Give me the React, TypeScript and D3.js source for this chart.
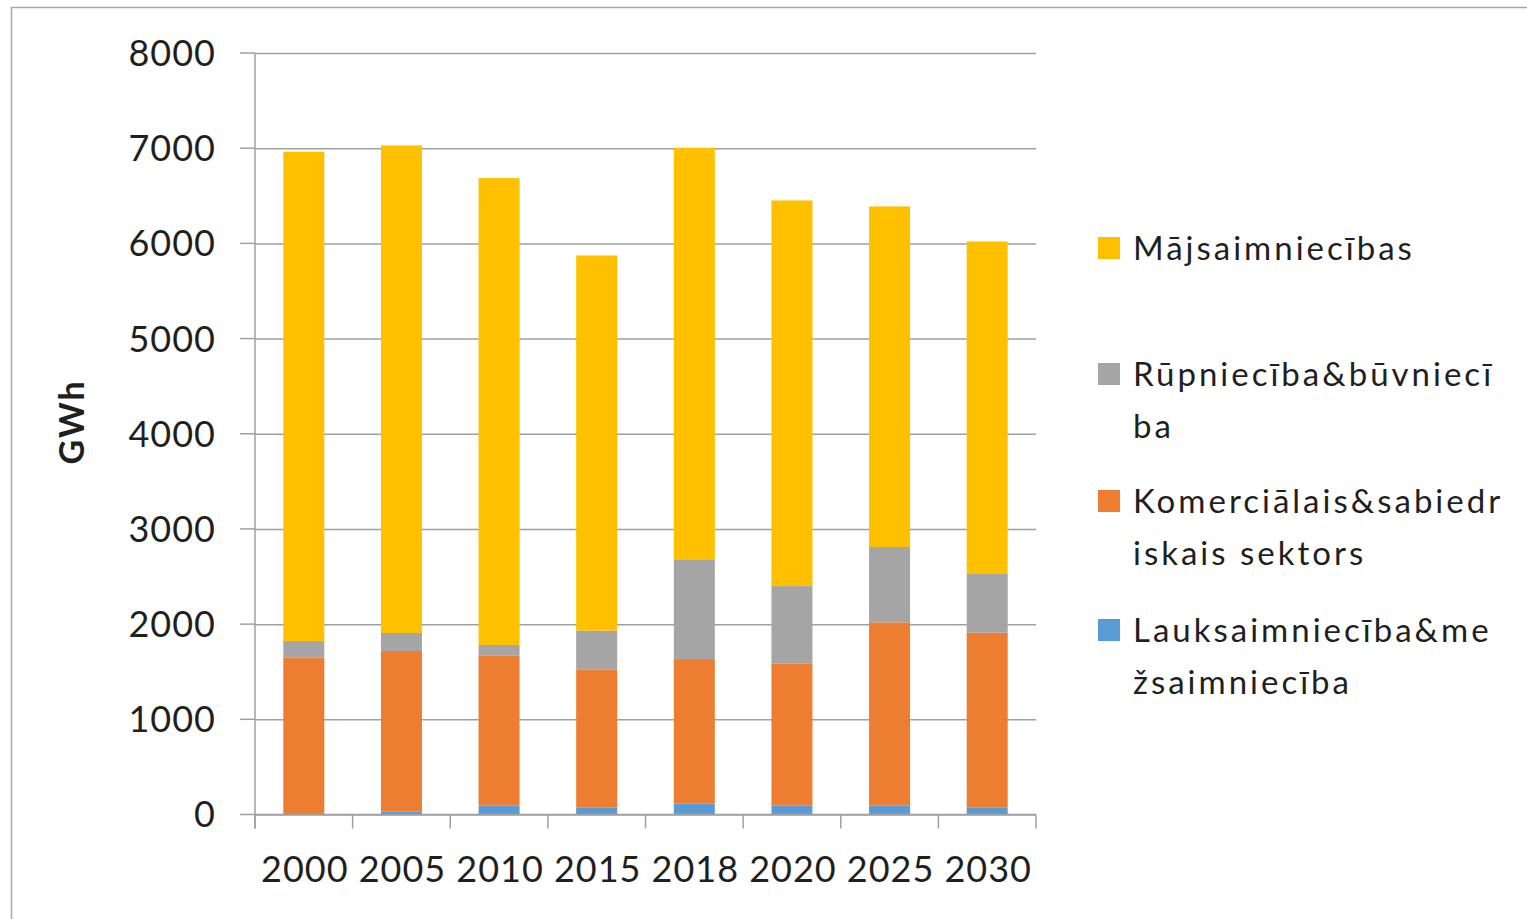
import { useEffect, useRef } from 'react'
import * as d3 from 'd3'

// Values (GWh)
const years = ['2000', '2005', '2010', '2015', '2018', '2020', '2025', '2030']
const lauksaimnieciba = [5, 30, 92, 71, 113, 92, 92, 71]
const komercialais = [1646, 1688, 1580, 1454, 1520, 1496, 1927, 1839]
const rupnieciba = [171, 189, 109, 406, 1048, 812, 791, 624]
const majsaimniecibas = [5141, 5122, 4905, 3942, 4324, 4051, 3578, 3486]

const yTicks = [0, 1000, 2000, 3000, 4000, 5000, 6000, 7000, 8000]

// stacking order bottom -> top
const seriesKeys = ['lauks', 'komerc', 'rupn', 'maj']
const seriesColors: Record<string, string> = {
  lauks: '#5B9BD5',
  komerc: '#ED7D31',
  rupn: '#A5A5A5',
  maj: '#FFC000',
}
// legend top -> bottom, labels wrapped as in the original
const legendKeys = ['maj', 'rupn', 'komerc', 'lauks']
const legendLines: Record<string, string[]> = {
  maj: ['Mājsaimniecības'],
  rupn: ['Rūpniecība&būvniecī', 'ba'],
  komerc: ['Komerciālais&sabiedr', 'iskais sektors'],
  lauks: ['Lauksaimniecība&me', 'žsaimniecība'],
}

const W = 1527
const H = 919
const FONT = 'Lato, "Open Sans", sans-serif'
const GRID = '#a0a0a0'
const TEXT = '#1f1f1f'

export default function App() {
  const ref = useRef<SVGSVGElement>(null)

  useEffect(() => {
    if (!ref.current) return
    const svg = d3.select(ref.current)
    svg.selectAll('*').remove()

    const left = 255
    const right = 1036
    const top = 53
    const bottom = 814.5

    const rows = years.map((year, i) => ({
      year,
      lauks: lauksaimnieciba[i],
      komerc: komercialais[i],
      rupn: rupnieciba[i],
      maj: majsaimniecibas[i],
    }))

    const x = d3.scaleBand().domain(years).range([left, right]).padding(0)
    const y = d3.scaleLinear().domain([0, 8000]).range([bottom, top])
    const barW = x.bandwidth() * 0.42

    // outer chart border (cropped at right/bottom)
    svg.append('rect')
      .attr('x', 11.5).attr('y', 7.5)
      .attr('width', W).attr('height', H)
      .attr('fill', 'white')
      .attr('stroke', '#a6a6a6')
      .attr('stroke-width', 1.5)

    // horizontal gridlines
    svg.append('g')
      .attr('transform', `translate(${left},0)`)
      .call(d3.axisLeft(y).tickValues(yTicks).tickSize(-(right - left)).tickFormat(() => ''))
      .call(g => g.select('.domain').remove())
      .call(g => g.selectAll('line').attr('stroke', GRID).attr('stroke-width', 1.5))

    // y tick marks left of the axis
    svg.append('g')
      .selectAll('line')
      .data(yTicks)
      .enter().append('line')
      .attr('x1', 240).attr('x2', left)
      .attr('y1', d => y(d)).attr('y2', d => y(d))
      .attr('stroke', GRID).attr('stroke-width', 1.5)

    // y labels
    svg.append('g')
      .selectAll('text')
      .data(yTicks)
      .enter().append('text')
      .attr('x', 216)
      .attr('y', d => y(d))
      .attr('dy', '0.36em')
      .attr('text-anchor', 'end')
      .attr('font-family', FONT)
      .attr('font-size', 36)
      .attr('letter-spacing', 1)
      .attr('fill', TEXT)
      .text(d => String(d))

    // stacked bars
    const stacked = d3.stack<any>().keys(seriesKeys)(rows)
    svg.append('g')
      .selectAll('g')
      .data(stacked)
      .enter().append('g')
      .attr('fill', d => seriesColors[d.key])
      .selectAll('rect')
      .data(d => d)
      .enter().append('rect')
      .attr('x', d => (x(d.data.year) as number) + (x.bandwidth() - barW) / 2)
      .attr('width', barW)
      .attr('y', d => y(d[1]))
      .attr('height', d => y(d[0]) - y(d[1]))

    // y axis line
    svg.append('line')
      .attr('x1', left).attr('x2', left)
      .attr('y1', top).attr('y2', bottom + 14)
      .attr('stroke', GRID).attr('stroke-width', 1.5)

    // x axis with ticks between categories
    svg.append('line')
      .attr('x1', left).attr('x2', right)
      .attr('y1', bottom).attr('y2', bottom)
      .attr('stroke', GRID).attr('stroke-width', 1.5)

    const bounds = years.map(d => x(d) as number).concat([right])
    svg.append('g')
      .selectAll('line')
      .data(bounds)
      .enter().append('line')
      .attr('x1', d => d).attr('x2', d => d)
      .attr('y1', bottom).attr('y2', bottom + 14)
      .attr('stroke', GRID).attr('stroke-width', 1.5)

    svg.append('g')
      .selectAll('text')
      .data(years)
      .enter().append('text')
      .attr('x', d => (x(d) as number) + x.bandwidth() / 2 + 1)
      .attr('y', 882)
      .attr('text-anchor', 'middle')
      .attr('font-family', FONT)
      .attr('font-size', 36)
      .attr('letter-spacing', 1)
      .attr('fill', TEXT)
      .text(d => d)

    // y axis title
    svg.append('text')
      .attr('transform', 'translate(84,422) rotate(-90)')
      .attr('text-anchor', 'middle')
      .attr('font-family', FONT)
      .attr('font-weight', 'bold')
      .attr('font-size', 34)
      .attr('letter-spacing', 2)
      .attr('fill', TEXT)
      .text('GWh')

    // legend
    const legendBaselines = [260, 386, 513, 642]
    const lg = svg.append('g')
    legendKeys.forEach((key, i) => {
      const base = legendBaselines[i]
      lg.append('rect')
        .attr('x', 1098).attr('y', base - 23)
        .attr('width', 22).attr('height', 22)
        .attr('fill', seriesColors[key])
      legendLines[key].forEach((line, j) => {
        lg.append('text')
          .attr('x', 1133)
          .attr('y', base + j * 52)
          .attr('font-family', FONT)
          .attr('font-size', 33)
          .attr('letter-spacing', 3)
          .attr('fill', TEXT)
          .text(line)
      })
    })
  }, [])

  return (
    <svg
      ref={ref}
      width={W}
      height={H}
      style={{ position: 'absolute', left: 0, top: 0, display: 'block', background: 'white' }}
    />
  )
}
